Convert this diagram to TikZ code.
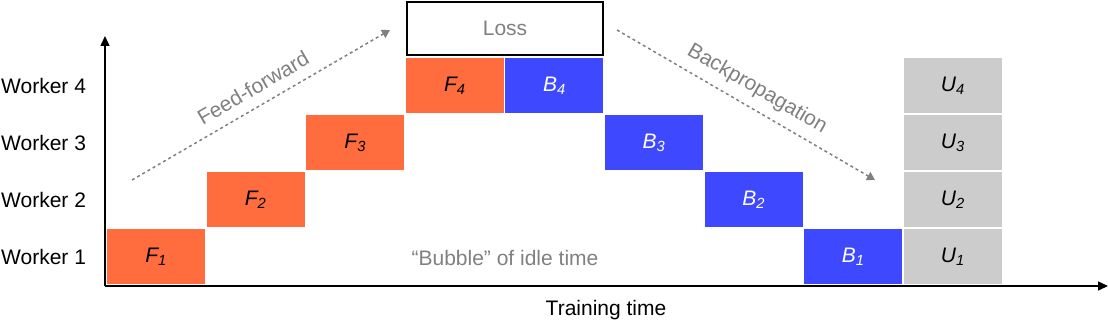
\documentclass[tikz,border=0pt]{standalone}
\usepackage{fontspec}
\setmainfont{Liberation Sans}
\usetikzlibrary{arrows.meta}
\definecolor{fwd}{RGB}{255,108,62}
\definecolor{bwd}{RGB}{61,72,255}
\definecolor{upd}{RGB}{204,204,204}
\definecolor{txtgray}{RGB}{128,128,128}
\tikzset{
  block/.style={rectangle,minimum width=98pt,minimum height=55pt,inner sep=0pt,font=\fontsize{21}{25}\selectfont\itshape},
  fblock/.style={block,fill=fwd,text=black},
  bblock/.style={block,fill=bwd,text=white},
  ublock/.style={block,fill=upd,text=black},
  lbl/.style={font=\fontsize{21}{25}\selectfont,inner sep=0pt},
  flow/.style={txtgray,line width=1.5pt,dash pattern=on 3pt off 3pt,-{Triangle[width=9pt,length=8pt]}}
}
\begin{document}
\begin{tikzpicture}[x=1pt,y=1pt]
\useasboundingbox (0,0) rectangle (1108,322);
% axes
\coordinate (origin) at (105,36);
\coordinate (ytop) at (105,286);
\coordinate (xend) at (1108,36);
\draw[line width=1.5pt,-{Triangle[width=9pt,length=10pt]}] (origin) -- (ytop);
\draw[line width=1.5pt,-{Triangle[width=9pt,length=10pt]}] (origin) -- (xend);
% worker labels
\node[lbl,anchor=west] (w1) at (1,65.5) {Worker 1};
\node[lbl,anchor=west] (w2) at (1,122.5) {Worker 2};
\node[lbl,anchor=west] (w3) at (1,179.5) {Worker 3};
\node[lbl,anchor=west] (w4) at (1,236.5) {Worker 4};
% forward pass
\node[fblock] (f1) at (156,65.5) {F\textsubscript{1}};
\node[fblock] (f2) at (255.6,122.5) {F\textsubscript{2}};
\node[fblock] (f3) at (355.2,179.5) {F\textsubscript{3}};
\node[fblock] (f4) at (454.8,236.5) {F\textsubscript{4}};
% backward pass
\node[bblock] (b4) at (554.4,236.5) {B\textsubscript{4}};
\node[bblock] (b3) at (654,179.5) {B\textsubscript{3}};
\node[bblock] (b2) at (753.6,122.5) {B\textsubscript{2}};
\node[bblock] (b1) at (853.2,65.5) {B\textsubscript{1}};
% updates
\node[ublock] (u1) at (952.8,65.5) {U\textsubscript{1}};
\node[ublock] (u2) at (952.8,122.5) {U\textsubscript{2}};
\node[ublock] (u3) at (952.8,179.5) {U\textsubscript{3}};
\node[ublock] (u4) at (952.8,236.5) {U\textsubscript{4}};
% loss
\node[draw,line width=1.5pt,minimum width=196pt,minimum height=53pt,lbl,text=txtgray] (loss) at (505,293.5) {Loss};
% flow arrows
\coordinate (ffstart) at (132,142);
\coordinate (ffend) at (390,292);
\coordinate (bpstart) at (617,292);
\coordinate (bpend) at (875,142);
\draw[flow] (ffstart) -- (ffend);
\draw[flow] (bpstart) -- (bpend);
\node[lbl,text=txtgray,rotate=30.2] (ff) at (253,234) {Feed-forward};
\node[lbl,text=txtgray,rotate=-30.2] (bp) at (757,233) {Backpropagation};
% other labels
\node[lbl,text=txtgray] (bubble) at (505,64) {``Bubble'' of idle time};
\node[lbl] (time) at (606,12) {Training time};
\end{tikzpicture}
\end{document}
